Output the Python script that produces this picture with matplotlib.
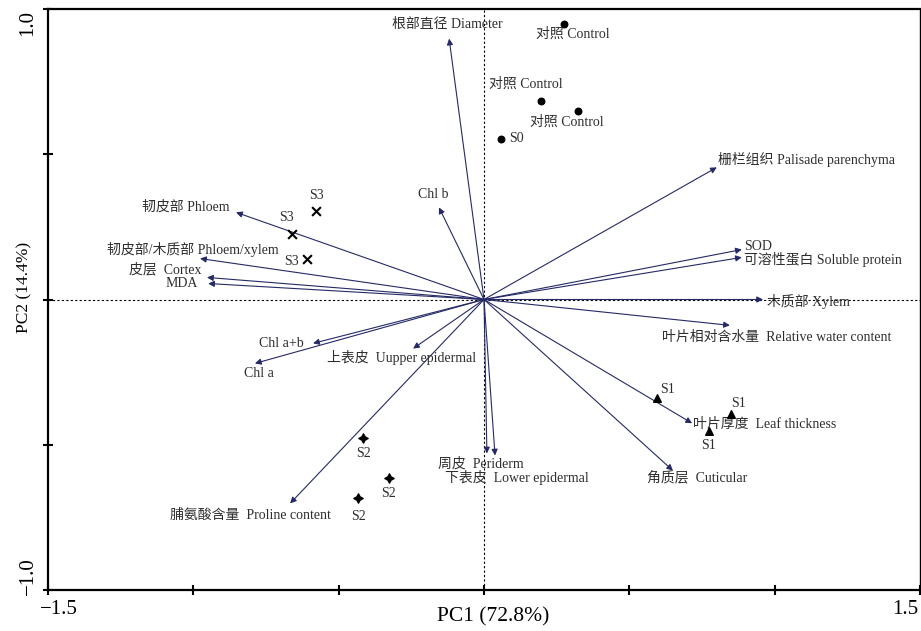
import matplotlib
matplotlib.use("Agg")
import matplotlib.pyplot as plt
import matplotlib.transforms as mtransforms

plt.rcParams['font.family'] = ['Liberation Serif', 'Noto Sans CJK SC']
plt.rcParams['axes.unicode_minus'] = True

# ------------------- Data -------------------
# variable loadings (PC1, PC2)
var_names = ["根部直径 Diameter", "Chl b", "韧皮部 Phloem", "韧皮部/木质部 Phloem/xylem",
             "皮层  Cortex", "MDA", "Chl a+b", "Chl a", "上表皮  Uupper epidermal",
             "脯氨酸含量  Proline content", "周皮  Periderm", "下表皮  Lower epidermal",
             "角质层  Cuticular", "叶片厚度  Leaf thickness", "叶片相对含水量  Relative water content",
             "木质部 Xylem", "栅栏组织 Palisade parenchyma", "SOD", "可溶性蛋白 Soluble protein"]
pc1_load = [-0.120, -0.155, -0.853, -0.977, -0.953, -0.949, -0.588, -0.788, -0.244,
            -0.667, 0.010, 0.038, 0.650, 0.716, 0.846, 0.960, 0.801, 0.887, 0.887]
pc2_load = [0.898, 0.317, 0.300, 0.141, 0.076, 0.055, -0.151, -0.220, -0.169,
            -0.702, -0.530, -0.537, -0.589, -0.426, -0.089, 0.000, 0.455, 0.172, 0.145]

# sample scores
sample_names = ["对照 Control", "对照 Control", "对照 Control", "S0",
                "S1", "S1", "S1", "S2", "S2", "S2", "S3", "S3", "S3"]
sample_group = ["ck", "ck", "ck", "ck", "S1", "S1", "S1", "S2", "S2", "S2", "S3", "S3", "S3"]
pc1_score = [0.275, 0.196, 0.323, 0.058, 0.595, 0.850, 0.774,
             -0.416, -0.326, -0.434, -0.578, -0.660, -0.609]
pc2_score = [0.950, 0.685, 0.648, 0.554, -0.339, -0.394, -0.452,
             -0.478, -0.616, -0.685, 0.303, 0.224, 0.138]

# ------------------- Layout -------------------
# text anchors (x, y, ha) for variable labels
var_label_pos = [(-0.316, 0.947, 'left'), (-0.227, 0.361, 'left'), (-1.176, 0.317, 'left'),
                 (-1.297, 0.172, 'left'), (-1.221, 0.103, 'left'), (-1.094, 0.055, 'left'),
                 (-0.774, -0.151, 'left'), (-0.826, -0.255, 'left'), (-0.540, -0.200, 'left'),
                 (-1.080, -0.744, 'left'), (-0.158, -0.565, 'left'), (-0.134, -0.613, 'left'),
                 (0.561, -0.616, 'left'), (0.719, -0.430, 'left'), (0.612, -0.131, 'left'),
                 (0.974, -0.007, 'left'), (0.805, 0.482, 'left'), (0.894, 0.182, 'left'),
                 (0.894, 0.138, 'left')]
sample_label_pos = [(0.179, 0.912, 'left'), (0.017, 0.740, 'left'), (0.158, 0.609, 'left'),
                    (0.086, 0.554, 'left'),
                    (0.630, -0.310, 'center'), (0.877, -0.358, 'center'), (0.774, -0.503, 'center'),
                    (-0.416, -0.530, 'center'), (-0.327, -0.668, 'center'), (-0.433, -0.747, 'center'),
                    (-0.578, 0.358, 'center'), (-0.678, 0.282, 'center'), (-0.664, 0.131, 'center')]
markers = {"ck": dict(marker='o', s=22), "S1": dict(marker='^', s=30),
           "S2": dict(marker=(4, 1, 0), s=45), "S3": dict(marker='x', s=40, linewidths=1.5)}

ARROW_COLOR = '#252a66'
TEXT_COLOR = '#2e2e2e'

fig = plt.figure(figsize=(9.21, 6.31), dpi=100)
ax = fig.add_axes([48 / 921, 41 / 631, 872 / 921, 581 / 631])

ax.set_xlim(-1.5, 1.5)
ax.set_ylim(-1.0, 1.0)

# zero lines
ax.axhline(0, color='black', lw=0.8, ls=(0, (2, 2)), zorder=1)
ax.axvline(0, color='black', lw=0.8, ls=(0, (2, 2)), zorder=1)

# loading arrows
for name, x, y, (tx, ty, ha) in zip(var_names, pc1_load, pc2_load, var_label_pos):
    ax.annotate("", xy=(x, y), xytext=(0, 0),
                arrowprops=dict(arrowstyle='-|>', color=ARROW_COLOR, lw=0.8,
                                mutation_scale=9, shrinkA=0, shrinkB=0), zorder=2)
    ax.text(tx, ty, name, ha=ha, va='center', fontsize=10, color=TEXT_COLOR, zorder=3)

# sample points
for name, g, x, y, (tx, ty, ha) in zip(sample_names, sample_group, pc1_score, pc2_score,
                                        sample_label_pos):
    ax.scatter([x], [y], color='black', zorder=4, **markers[g])
    ax.text(tx, ty, name, ha=ha, va='center', fontsize=10, color=TEXT_COLOR, zorder=3)

# axes styling
for side in ['left', 'bottom', 'top']:
    ax.spines[side].set_linewidth(1.6)
ax.spines['right'].set_linewidth(1.0)

ax.set_xticks([-1.5, -1.0, -0.5, 0, 0.5, 1.0, 1.5])
ax.set_xticklabels(['\u22121.5', '', '', '', '', '', '1.5'])
ax.set_yticks([-1.0, -0.5, 0, 0.5, 1.0])
ax.set_yticklabels(['\u22121.0', '', '', '', '1.0'], rotation=90, va='center')
ax.tick_params(direction='inout', length=7, width=1.5, labelsize=15, pad=4)

# shift outermost tick labels inward a bit, like the original
xl = ax.get_xticklabels()
xl[0].set_transform(xl[0].get_transform() + mtransforms.ScaledTranslation(11 / 100, 0, fig.dpi_scale_trans))
xl[-1].set_transform(xl[-1].get_transform() + mtransforms.ScaledTranslation(-15 / 100, 0, fig.dpi_scale_trans))
yl = ax.get_yticklabels()
yl[0].set_transform(yl[0].get_transform() + mtransforms.ScaledTranslation(0, 14 / 100, fig.dpi_scale_trans))
yl[-1].set_transform(yl[-1].get_transform() + mtransforms.ScaledTranslation(0, -14 / 100, fig.dpi_scale_trans))

ax.set_xlabel("PC1 (72.8%)", fontsize=15.5)
ax.xaxis.set_label_coords(0.510, -0.029)
ax.set_ylabel("PC2 (14.4%)", fontsize=12.5)
ax.yaxis.set_label_coords(-0.018, 0.521)

fig.savefig("out.png", dpi=100)
